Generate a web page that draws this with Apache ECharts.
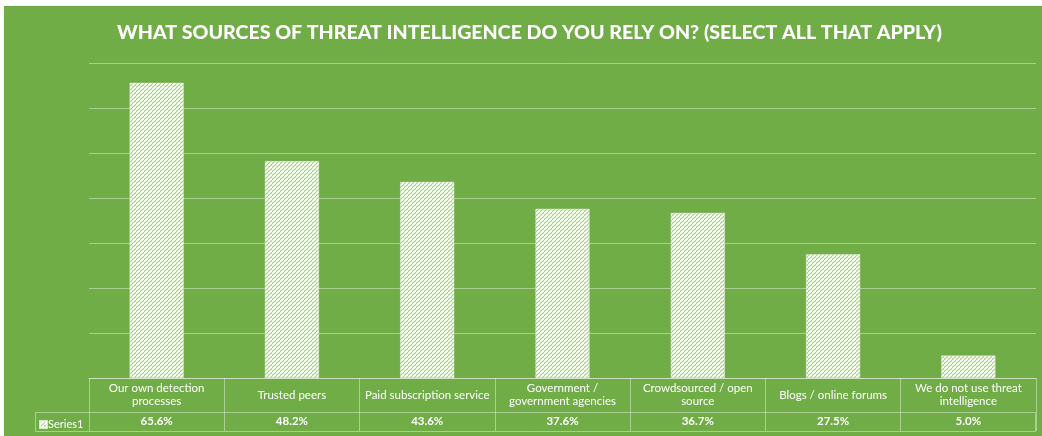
<!DOCTYPE html>
<html><head><meta charset="utf-8">
<script src="https://cdn.jsdelivr.net/npm/echarts@6/dist/echarts.min.js"></script>
<style>html,body{margin:0;padding:0;background:#fff;} #c{position:absolute;left:4px;top:6px;width:1038px;height:430px;}</style>
</head><body><div id="c"></div>
<script>
const titleText = 'WHAT SOURCES OF THREAT INTELLIGENCE DO YOU RELY ON? (SELECT ALL THAT APPLY)';
const categories = ['Our own detection\nprocesses', 'Trusted peers', 'Paid subscription service', 'Government /\ngovernment agencies', 'Crowdsourced / open\nsource', 'Blogs / online forums', 'We do not use threat\nintelligence'];
const values = [65.6, 48.2, 43.6, 37.6, 36.7, 27.5, 5.0];
const seriesName = 'Series1';
const yMin = 0, yMax = 70, yInterval = 10;

const GREEN = '#70ad47';
const LINE = 'rgba(255,255,255,0.4)';

function makePattern() {
  const p = 4;
  const cv = document.createElement('canvas');
  cv.width = p; cv.height = p;
  const ctx = cv.getContext('2d');
  ctx.fillStyle = '#a9cf8f';
  ctx.fillRect(0, 0, p, p);
  ctx.strokeStyle = '#ffffff';
  ctx.lineWidth = 1.8;
  for (const k of [-p, 0, p]) {
    ctx.beginPath();
    ctx.moveTo(k, p);
    ctx.lineTo(k + p, 0);
    ctx.stroke();
  }
  return cv;
}
const pattern = { image: makePattern(), repeat: 'repeat' };

const chart = echarts.init(document.getElementById('c'), null, { renderer: 'canvas' });
chart.setOption({
  backgroundColor: GREEN,
  animation: false,
  title: {
    text: titleText, left: 108, top: 12,
    textStyle: { color: '#fff', fontFamily: 'Lato', fontWeight: 900, fontSize: 19.6 }
  },
  legend: {
    left: 30, top: 408, itemWidth: 7, itemHeight: 7, itemGap: 2,
    icon: 'rect', data: [seriesName],
    textStyle: { color: '#fff', fontFamily: 'Lato', fontSize: 11, padding: [0, 0, 0, -4] }
  },
  grid: { left: 85, right: 6, top: 57, bottom: 58, containLabel: false },
  xAxis: [{
    type: 'category', data: categories, position: 'bottom',
    axisLine: { show: true, lineStyle: { color: LINE, width: 1 } },
    axisTick: { show: true, interval: 0, length: 53, lineStyle: { color: LINE } },
    axisLabel: { interval: 0, color: '#fff', fontFamily: 'Lato', fontSize: 11.5, lineHeight: 13,
      margin: 17, verticalAlign: 'middle', align: 'center' }
  }, {
    type: 'category', data: values.map(v => v.toFixed(1) + '%'), position: 'bottom',
    axisLine: { show: false }, axisTick: { show: false },
    axisLabel: { interval: 0, color: '#fff', fontFamily: 'Lato', fontSize: 11.5, fontWeight: 'bold',
      margin: 43, verticalAlign: 'middle', align: 'center' }
  }],
  yAxis: {
    type: 'value', min: yMin, max: yMax, interval: yInterval,
    axisLabel: { show: false }, axisLine: { show: false }, axisTick: { show: false },
    splitLine: { show: true, lineStyle: { color: LINE, width: 1 } }
  },
  graphic: [{
    type: 'rect', shape: { x: 31.5, y: 406.5, width: 1000, height: 19 },
    style: { fill: 'none', stroke: LINE, lineWidth: 1 }, silent: true
  }],
  series: [{
    name: seriesName, type: 'bar', data: values, barWidth: '40%',
    itemStyle: { color: pattern, borderColor: 'rgba(255,255,255,0.7)', borderWidth: 0.5 }
  }]
});
</script></body></html>
